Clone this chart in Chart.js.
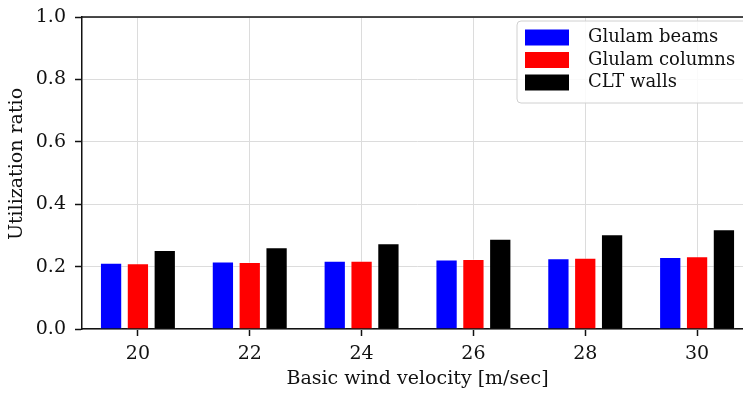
<!DOCTYPE html>
<html>
<head>
<meta charset="utf-8">
<script src="https://cdn.jsdelivr.net/npm/chart.js@4.4.0/dist/chart.umd.min.js"></script>
<style>
    html, body { margin: 0; padding: 0; background: #fff; overflow: hidden; }
    #wrap { width: 753px; height: 396px; }
</style>
</head>
<body>
<div id="wrap"><canvas id="windChart" width="753" height="396"></canvas></div>
<script>
const windSpeeds = ['20', '22', '24', '26', '28', '30'];
const seriesNames = ['Glulam beams', 'Glulam columns', 'CLT walls'];
const seriesColors = ['#0000ff', '#ff0000', '#000000'];
const glulamBeams = [0.212, 0.216, 0.219, 0.223, 0.227, 0.231];
const glulamColumns = [0.211, 0.215, 0.219, 0.224, 0.228, 0.233];
const cltWalls = [0.253, 0.262, 0.275, 0.289, 0.304, 0.320];
const yTicks = [0.0, 0.2, 0.4, 0.6, 0.8, 1.0];

const FONT = "'DejaVu Serif', serif";
const INK = '#111111';
const SIZE = 19;

document.addEventListener('DOMContentLoaded', function () {
    const canvas = document.getElementById('windChart');

    // top spine, y axis title and boxed legend in the upper right corner
    const framePlugin = {
        id: 'frame',
        afterDraw(chart) {
            const ctx = chart.ctx;
            const area = chart.chartArea;
            ctx.save();
            ctx.strokeStyle = INK;
            ctx.lineWidth = 1.5;
            ctx.beginPath();
            ctx.moveTo(area.left, area.top);
            ctx.lineTo(area.right, area.top);
            ctx.stroke();

            ctx.font = SIZE + 'px ' + FONT;
            ctx.fillStyle = INK;
            ctx.textAlign = 'center';
            ctx.textBaseline = 'middle';
            ctx.save();
            ctx.translate(17, 164);
            ctx.rotate(-Math.PI / 2);
            ctx.fillText('Utilization ratio', 0, 0);
            ctx.restore();

            const x = 517, y = 21, w = 250, h = 82;
            ctx.fillStyle = 'rgba(255,255,255,0.85)';
            ctx.strokeStyle = '#d0d0d0';
            ctx.lineWidth = 1;
            ctx.beginPath();
            ctx.roundRect(x, y, w, h, 4);
            ctx.fill();
            ctx.stroke();

            ctx.font = '18px ' + FONT;
            ctx.textAlign = 'left';
            chart.data.datasets.forEach((ds, i) => {
                const rowY = 29.5 + i * 22.5;
                ctx.fillStyle = ds.backgroundColor;
                ctx.fillRect(525, rowY, 44, 16);
                ctx.fillStyle = INK;
                ctx.fillText(ds.label, 588, rowY + 8);
            });
            ctx.restore();
        }
    };

    const datasets = [glulamBeams, glulamColumns, cltWalls].map((values, i) => ({
        label: seriesNames[i],
        data: values,
        backgroundColor: seriesColors[i],
        borderColor: 'rgba(255,255,255,0.35)',
        borderWidth: 1,
        categoryPercentage: 0.72,
        barPercentage: 0.83
    }));

    new Chart(canvas.getContext('2d'), {
        type: 'bar',
        data: { labels: windSpeeds, datasets: datasets },
        options: {
            responsive: false,
            animation: false,
            devicePixelRatio: 1,
            layout: { padding: { top: 17, left: 0, right: 0, bottom: 0 } },
            plugins: {
                legend: { display: false },
                tooltip: { enabled: false }
            },
            scales: {
                x: {
                    offset: true,
                    grid: { offset: false, color: '#dcdcdc', lineWidth: 1, tickLength: 7, tickColor: INK, tickWidth: 1.5 },
                    border: { display: true, color: INK, width: 1.5 },
                    ticks: { color: INK, padding: 7, font: { family: FONT, size: SIZE } },
                    title: {
                        display: true,
                        text: 'Basic wind velocity [m/sec]',
                        color: INK,
                        padding: { top: 0, bottom: 6 },
                        font: { family: FONT, size: SIZE }
                    },
                    afterFit(scale) {
                        scale.height = 67;
                        scale.paddingLeft = 0;
                        scale.paddingRight = 0;
                    }
                },
                y: {
                    min: 0,
                    max: 1,
                    afterBuildTicks(scale) {
                        scale.ticks = yTicks.map(v => ({ value: v }));
                    },
                    grid: { color: '#dcdcdc', lineWidth: 1, tickLength: 7, tickColor: INK, tickWidth: 1.5 },
                    border: { display: true, color: INK, width: 1.5 },
                    ticks: {
                        color: INK,
                        padding: 9,
                        font: { family: FONT, size: SIZE },
                        callback: v => v.toFixed(1)
                    },
                    afterFit(scale) {
                        scale.width = 82;
                        scale.paddingTop = 0;
                        scale.paddingBottom = 0;
                    }
                }
            }
        },
        plugins: [framePlugin]
    });
});
</script>
</body>
</html>
